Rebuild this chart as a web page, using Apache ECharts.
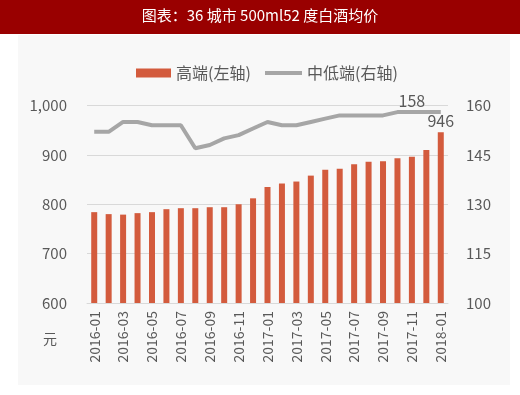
<!DOCTYPE html>
<html><head><meta charset="utf-8">
<script src="https://cdn.jsdelivr.net/npm/echarts@6/dist/echarts.min.js"></script>
<style>html,body{margin:0;padding:0;background:#fff}#c{width:520px;height:395px}</style>
</head><body><div id="c"></div>
<script>
const categories = ['2016-01','2016-02','2016-03','2016-04','2016-05','2016-06','2016-07','2016-08','2016-09','2016-10','2016-11','2016-12','2017-01','2017-02','2017-03','2017-04','2017-05','2017-06','2017-07','2017-08','2017-09','2017-10','2017-11','2017-12','2018-01'];
const highEnd = [784,780,779,782,784,790,792,792,794,794,800,812,835,842,846,858,870,872,881,886,887,893,896,910,946];
const midLow = [152,152,155,155,154,154,154,147,148,150,151,153,155,154,154,155,156,157,157,157,157,158,158,158,158];
const leftTicks = [600,700,800,900,1000];
const rightTicks = [100,115,130,145,160];
const titleText = '图表：36 城市 500ml52 度白酒均价';
const unitText = '元';
const seriesNames = ['高端(左轴)', '中低端(右轴)'];
const lineLabelIndex = 22;

const font = '"Noto Sans CJK SC", "Noto Sans", sans-serif';
const txt = '#595959';
const chart = echarts.init(document.getElementById('c'), null, {renderer:'canvas'});
chart.setOption({
  backgroundColor: '#ffffff',
  animation: false,
  graphic: [
    {type:'rect', left:18, top:35, shape:{width:492, height:350}, style:{fill:'#f8f8f8'}, z:-10},
    {type:'rect', left:0, top:0, shape:{width:520, height:34}, style:{fill:'#990000'}, z:-5},
    {type:'text', left:'center', top:8, style:{text:titleText, fill:'#ffffff', font:'15px ' + font}},
    {type:'text', left:43, top:332, style:{text:unitText, fill:txt, font:'14px ' + font}}
  ],
  legend: [
    {top: 60, left: 131, itemWidth: 35, itemHeight: 9, icon: 'rect',
     textStyle: {color: txt, fontSize: 16, fontFamily: font}, data: [seriesNames[0]]},
    {top: 60, left: 260, itemWidth: 37, itemHeight: 4, icon: 'rect',
     textStyle: {color: txt, fontSize: 16, fontFamily: font}, data: [seriesNames[1]]}
  ],
  grid: {left: 87, right: 72, top: 105.5, bottom: 92},
  xAxis: {
    type: 'category', data: categories, boundaryGap: true,
    axisLine: {lineStyle: {color: '#d9d9d9'}},
    axisTick: {interval: 1, length: 5, lineStyle: {color: '#d9d9d9'}},
    axisLabel: {interval: 1, rotate: 90, margin: 8, color: txt, fontSize: 14, fontFamily: font}
  },
  yAxis: [
    {type:'value', min: leftTicks[0], max: leftTicks[leftTicks.length-1], interval: 100,
     axisLine:{show:false}, axisTick:{show:false},
     splitLine:{lineStyle:{color:'#d9d9d9'}},
     axisLabel:{margin: 20, color: txt, fontSize: 15, fontFamily: font,
       formatter: v => v.toLocaleString('en-US')}},
    {type:'value', min: rightTicks[0], max: rightTicks[rightTicks.length-1], interval: 15,
     axisLine:{show:false}, axisTick:{show:false}, splitLine:{show:false},
     axisLabel:{margin: 18, color: txt, fontSize: 15, fontFamily: font}}
  ],
  series: [
    {name:seriesNames[0], type:'bar', yAxisIndex:0, data: highEnd.map((v,i)=> i===highEnd.length-1 ? {value:v, label:{show:true, position:'top', distance:3, color:txt, fontSize:16, fontFamily:font}} : v),
     barWidth: 6, itemStyle:{color:'#d35b3d'}},
    {name:seriesNames[1], type:'line', yAxisIndex:1, data: midLow,
     symbol:'none', lineStyle:{color:'#a6a6a6', width:4}, itemStyle:{color:'#a6a6a6'},
     markPoint:{symbol:'circle', symbolSize:0, silent:true,
       label:{show:true, position:'top', distance:3, color:txt, fontSize:16, fontFamily:font, formatter: p => String(p.value)},
       data:[{coord:[lineLabelIndex, midLow[lineLabelIndex]], value: midLow[lineLabelIndex]}]}}
  ]
});
</script></body></html>
